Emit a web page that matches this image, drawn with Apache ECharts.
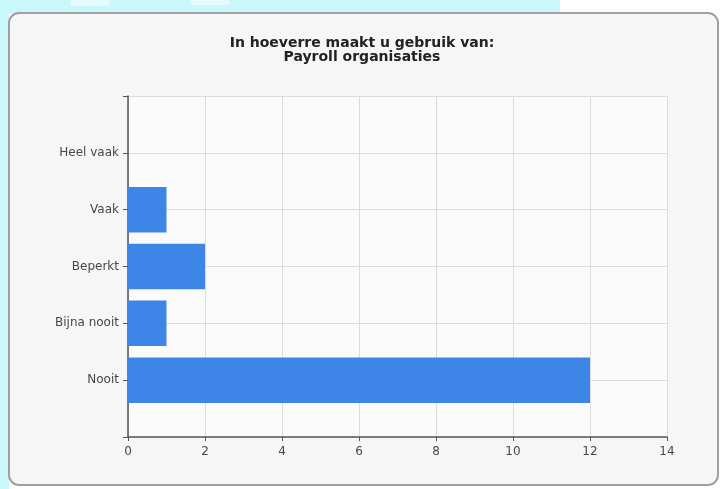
<!DOCTYPE html>
<html>
<head>
<meta charset="utf-8">
<script src="https://cdn.jsdelivr.net/npm/echarts@6/dist/echarts.min.js"></script>
<style>
  html, body { margin: 0; padding: 0; background: #ffffff; }
  #chart { width: 724px; height: 489px; }
</style>
</head>
<body>
<div id="chart"></div>
<script>
// Answer categories, bottom to top; empty slots pad the axis ends.
const categories = ['', 'Nooit', 'Bijna nooit', 'Beperkt', 'Vaak', 'Heel vaak', ''];
// Number of respondents per answer.
const counts = [null, 12, 1, 2, 1, 0, null];
const titleLines = ['In hoeverre maakt u gebruik van:', 'Payroll organisaties'];
const xMax = 14;
const xStep = 2;

const chart = echarts.init(document.getElementById('chart'), null, { renderer: 'canvas' });

const FONT = "'DejaVu Sans', Verdana, sans-serif";
const labelFont = { fontFamily: FONT, fontSize: 12, color: '#474747' };

chart.setOption({
  animation: false,
  backgroundColor: '#ffffff',
  graphic: [
    // light cyan page decoration behind the panel
    { type: 'rect', z: -10, shape: { x: 0, y: 0, width: 560, height: 14 }, style: { fill: '#c9f7fa' } },
    { type: 'rect', z: -10, shape: { x: 0, y: 0, width: 9, height: 489 }, style: { fill: '#c9f7fa' } },
    { type: 'rect', z: -9, shape: { x: 70, y: 0, width: 40, height: 6, r: 3 }, style: { fill: '#e6fbfc' } },
    { type: 'rect', z: -9, shape: { x: 190, y: 0, width: 40, height: 5, r: 3 }, style: { fill: '#e6fbfc' } },
    // rounded panel
    {
      type: 'rect', z: -5,
      shape: { x: 9, y: 13, width: 709, height: 472, r: 10 },
      style: { fill: '#f6f6f6', stroke: '#a0a0a0', lineWidth: 2 }
    }
  ],
  title: {
    text: titleLines.join('\n'),
    left: 'center',
    top: 31,
    textStyle: {
      fontFamily: FONT,
      fontSize: 14,
      fontWeight: 'bold',
      color: '#222',
      lineHeight: 14
    }
  },
  grid: {
    left: 128, right: 57, top: 96, bottom: 52,
    show: true,
    backgroundColor: '#fbfbfb',
    borderWidth: 0
  },
  xAxis: {
    type: 'value',
    min: 0,
    max: xMax,
    interval: xStep,
    axisLine: { show: true, lineStyle: { color: '#555', width: 1.5 } },
    axisTick: { show: true, length: 4, lineStyle: { color: '#555' } },
    axisLabel: Object.assign({ margin: 9 }, labelFont),
    splitLine: { show: true, lineStyle: { color: '#dcdcdc', width: 1 } }
  },
  yAxis: {
    type: 'category',
    data: categories,
    boundaryGap: false,
    axisLine: { show: true, lineStyle: { color: '#555', width: 1.5 } },
    axisTick: { show: true, length: 5, lineStyle: { color: '#555' } },
    axisLabel: Object.assign({ margin: 9, interval: 0 }, labelFont),
    splitLine: { show: true, lineStyle: { color: '#dcdcdc', width: 1 } }
  },
  series: [{
    type: 'bar',
    data: counts,
    barWidth: '80%',
    itemStyle: { color: '#3d86e8' }
  }]
});
</script>
</body>
</html>
